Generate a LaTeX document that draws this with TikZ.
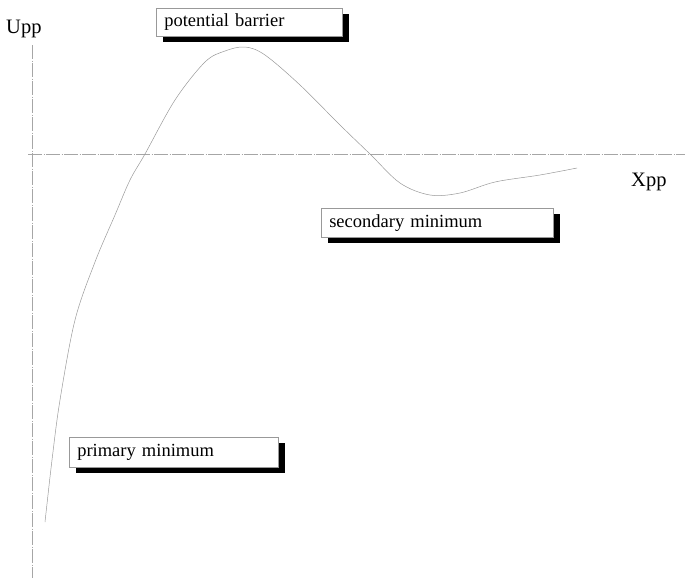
\documentclass[tikz,border=0pt]{standalone}
\usepackage{fontspec}
\setmainfont{Liberation Serif}
\usetikzlibrary{shadows}
\begin{document}
\begin{tikzpicture}[x=1pt,y=-1pt,
  axisline/.style={draw=gray!70, line width=0.5pt, dash pattern=on 14pt off 1.5pt on 1pt off 1.5pt},
  curveline/.style={draw=gray!80, line width=0.5pt},
  labelbox/.style={draw=gray!80, line width=0.5pt, fill=white, anchor=north west, inner sep=0pt,
    align=left, font=\fontsize{18.5}{20}\selectfont,
    drop shadow={shadow xshift=7pt, shadow yshift=-6pt, fill=black, opacity=1}},
  axislabel/.style={font=\fontsize{20.5}{22}\selectfont, inner sep=0pt}
]
\useasboundingbox (0,0) rectangle (686,579);
\coordinate (ytop) at (32,45);
\coordinate (ybot) at (32,578);
\coordinate (xl) at (28,154);
\coordinate (xr) at (685,154);
\draw[axisline] (ytop) -- (ybot);
\draw[axisline] (xl) -- (xr);
\node[axislabel, anchor=west] (upp) at (6,29) {Upp};
\node[axislabel, anchor=west] (xpp) at (631,182) {Xpp};
\draw[curveline] plot[smooth, tension=0.55] coordinates {
 (45,522) (52,460) (60,400) (75,320) (95,262) (115,215) (130,180) (145,154)
 (175,100) (205,62) (225,51) (245,47) (265,55) (300,85) (340,125) (370,154)
 (400,183) (430,195) (460,193) (495,182) (540,175) (577,168)};
\node[labelbox, minimum width=186pt, minimum height=28pt, text width=180pt] (pb) at (156,8) {\hspace*{5pt}potential barrier};
\node[labelbox, minimum width=232pt, minimum height=29pt, text width=226pt] (sm) at (321,208) {\hspace*{5pt}secondary minimum};
\node[labelbox, minimum width=209pt, minimum height=30pt, text width=203pt] (pm) at (69,437) {\hspace*{5pt}primary minimum};
\end{tikzpicture}
\end{document}
